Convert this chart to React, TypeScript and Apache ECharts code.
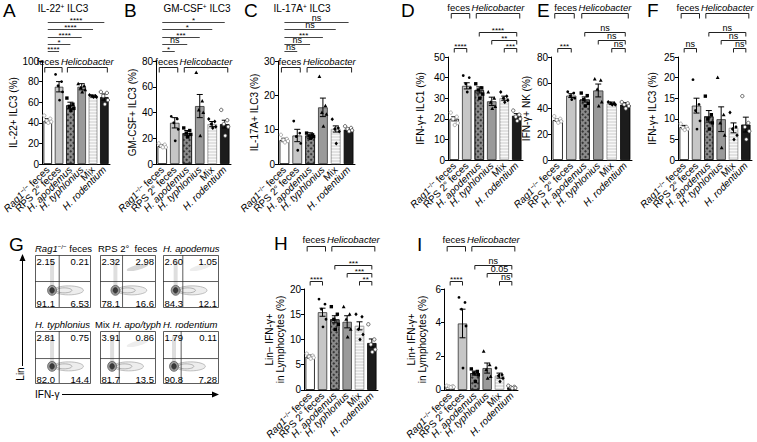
import React, { useEffect, useRef } from "react";
import * as echarts from "echarts";

const FONT = "'Liberation Sans', Arial, Helvetica, sans-serif";

const categories = ["Rag1−/− feces", "RPS 2° feces", "H. apodemus", "H. typhlonius", "Mix", "H. rodentium"];

// A: IL-22+ ILC3 (%)
const aMeans = [42, 75, 57, 75, 66, 65];
const aSems = [2, 5, 3, 3, 1, 3];
const aPoints = [[47, 44, 42, 41, 40], [87, 80, 76, 70, 62], [64, 58, 56, 54, 52], [78, 76, 74, 72, 70], [67, 66, 66, 65, 65], [70, 69, 66, 62, 58]];
const aSig = ["****", "*", "****", "****", "****"];

// B: GM-CSF+ ILC3 (%)
const bMeans = [14, 32, 24, 45, 31, 31];
const bSems = [1, 4, 2, 9, 2, 3];
const bPoints = [[16, 15, 14, 13, 13], [37, 35, 32, 27, 18], [28, 26, 24, 23, 21], [71, 49, 42, 40, 22], [35, 33, 31, 29, 28], [42, 34, 31, 29, 22]];
const bSig = ["*", "ns", "***", "*", "*"];

// C: IL-17A+ ILC3 (%)
const cMeans = [7, 8.3, 8.3, 16.5, 10.2, 10];
const cSems = [0.5, 1.8, 0.8, 2.7, 0.9, 0.4];
const cPoints = [[8.5, 7.3, 7, 6.7, 6.3], [12.5, 9, 8, 6, 4], [9, 8.5, 8.2, 8, 7.5], [25.5, 17, 15, 14.5, 11], [13, 10.5, 10.2, 9.5, 6], [11, 10.5, 10.2, 9.8, 9.5]];
const cSig = ["ns", "ns", "***", "ns", "ns"];

// D: IFN-γ+ ILC1 (%)
const dMeans = [20, 36, 34, 28.5, 30, 21.5];
const dSems = [1, 1.5, 1.5, 2, 1, 1];
const dPoints = [[23, 21, 20, 18, 17], [41, 40, 37, 35, 33], [37, 35, 34, 32, 30], [33, 30, 28, 26, 25], [33, 31, 30, 29, 28], [24, 22, 21, 20, 19]];
const dSigLeft = "****";
const dSigRight = ["****", "**", "***"];

// E: IFN-γ+ NK (%)
const eMeans = [31, 50, 47, 54, 44, 43];
const eSems = [1, 1.5, 2, 5, 1, 1.5];
const ePoints = [[34, 32, 31, 30, 29], [53, 52, 50, 48, 47], [52, 50, 47, 44, 42], [63, 62, 55, 45, 42], [45, 44, 44, 43, 43], [45, 44, 43, 42, 40]];
const eSigLeft = "***";
const eSigRight = ["ns", "ns", "ns"];

// F: IFN-γ+ ILC3 (%)
const fMeans = [8, 13.2, 10.6, 9.9, 7.8, 8.6];
const fSems = [0.4, 1.8, 1.4, 3, 1.2, 1.8];
const fPoints = [[8.8, 8, 7.8, 7.5, 7.3], [19.5, 13.5, 12, 9.5, 7.5], [15.5, 11, 10, 9, 7.5], [20, 11, 9, 6, 3], [11.5, 8, 7.5, 6, 5], [15.5, 9, 8, 7, 5]];
const fSigLeft = "ns";
const fSigRight = ["ns", "ns", "ns"];

// H: Lin− IFN-γ+ in Lymphocytes (%)
const hMeans = [6.6, 15.4, 14, 13.5, 12.7, 9.3];
const hSems = [0.3, 0.8, 0.7, 1.2, 0.8, 0.8];
const hPoints = [[7.2, 6.8, 6.6, 6.4, 6.2], [18, 17, 16, 14, 12.5], [16.5, 15, 14, 13, 12], [16.5, 15, 14, 12, 10.5], [15, 14.5, 12, 11, 10], [13, 10, 9, 8, 7.5]];
const hSigLeft = "****";
const hSigRight = ["***", "***", "**"];

// I: Lin+ IFN-γ+ in Lymphocytes (%)
const iMeans = [0.2, 3.95, 1.0, 1.3, 0.85, 0.15];
const iSems = [0.03, 0.85, 0.12, 0.3, 0.15, 0.03];
const iPoints = [[0.25, 0.22, 0.2, 0.18, 0.16], [5.5, 5.2, 4.8, 3.8, 1.3], [1.25, 1.1, 1.0, 0.9, 0.5], [2.3, 1.5, 1.2, 0.8, 0.7], [1.3, 0.9, 0.85, 0.7, 0.5], [0.25, 0.18, 0.15, 0.12, 0.1]];
const iSigLeft = "****";
const iSigRight = ["ns", "0.05", "ns"];

// G: flow plots
const gTitles = ["Rag1−/− feces", "RPS 2°  feces", "H. apodemus", "H. typhlonius", "Mix H. apo/typh", "H. rodentium"];
const gQuadrants = [
  ["2.15", "0.21", "91.1", "6.53"],
  ["2.32", "2.98", "78.1", "16.6"],
  ["2.60", "1.05", "84.3", "12.1"],
  ["2.81", "0.75", "82.0", "14.4"],
  ["3.91", "0.86", "81.7", "13.5"],
  ["1.79", "0.11", "90.8", "7.28"],
];

const panels = [
  { letter: "A", title: "IL-22+ ILC3", grid: { left: 34, top: 61, width: 76, height: 103 }, max: 100, interval: 20, name: "IL-22+ ILC3 (%)", gap: 19, means: aMeans, sems: aSems, points: aPoints },
  { letter: "B", title: "GM-CSF+ ILC3", grid: { left: 156, top: 61, width: 75, height: 103 }, max: 80, interval: 20, name: "GM-CSF+ ILC3 (%)", gap: 16, means: bMeans, sems: bSems, points: bPoints },
  { letter: "C", title: "IL-17A+ ILC3", grid: { left: 278, top: 61, width: 77, height: 103 }, max: 30, interval: 10, name: "IL-17A+ ILC3 (%)", gap: 16, means: cMeans, sems: cSems, points: cPoints },
  { letter: "D", grid: { left: 448, top: 57, width: 75, height: 103 }, max: 50, interval: 10, name: "IFN-γ+ ILC1 (%)", gap: 22, means: dMeans, sems: dSems, points: dPoints },
  { letter: "E", grid: { left: 551, top: 57, width: 81, height: 103 }, max: 80, interval: 20, name: "IFN-γ+ NK (%)", gap: 19, means: eMeans, sems: eSems, points: ePoints },
  { letter: "F", grid: { left: 678, top: 57, width: 74, height: 103 }, max: 25, interval: 5, name: "IFN-γ+ ILC3 (%)", gap: 20, means: fMeans, sems: fSems, points: fPoints },
  { letter: "H", grid: { left: 304, top: 289, width: 74, height: 101 }, max: 20, interval: 5, name: "Lin− IFN-γ+\nin Lymphocytes (%)", gap: 16, means: hMeans, sems: hSems, points: hPoints },
  { letter: "I", grid: { left: 444, top: 289, width: 74, height: 101 }, max: 6, interval: 2, name: "Lin+ IFN-γ+\nin Lymphocytes (%)", gap: 16, means: iMeans, sems: iSems, points: iPoints },
];

const abcSig = [aSig, bSig, cSig];
const rightSig = [
  { left: dSigLeft, right: dSigRight },
  { left: eSigLeft, right: eSigRight },
  { left: fSigLeft, right: fSigRight },
  { left: hSigLeft, right: hSigRight },
  { left: iSigLeft, right: iSigRight },
];

const barStyles: any[] = [
  { color: "#ffffff", borderColor: "#000", borderWidth: 0.8 },
  { color: "#c6c6c6", borderColor: "#333", borderWidth: 0.8 },
  { color: "#8a8a8a", borderColor: "#222", borderWidth: 0.8, decal: { symbol: "rect", symbolSize: 1, color: "rgba(20,20,20,0.7)", dashArrayX: [2, 2], dashArrayY: [2, 2], rotation: Math.PI / 4 } },
  { color: "#9a9a9a", borderColor: "#333", borderWidth: 0.8 },
  { color: "#e2e2e2", borderColor: "#aaa", borderWidth: 0.8, decal: { symbol: "rect", symbolSize: 1, color: "rgba(255,255,255,0.75)", dashArrayX: [1, 0], dashArrayY: [1, 2], rotation: 0 } },
  { color: "#1c1c1c", borderColor: "#000", borderWidth: 0.8 },
];

const jitter = [-3.5, 2.5, -1, 3.5, 0.5];

const richLabel = (c: string) => {
  if (c.startsWith("Rag1")) return "{i|Rag1}{s|−/−}{n|" + c.slice(7) + "}";
  if (c.startsWith("Mix H.")) return "{n|Mix }{i|" + c.slice(4) + "}";
  if (c.startsWith("H. ")) return "{i|" + c + "}";
  return "{n|" + c + "}";
};

const richStyles = (size: number) => ({
  i: { fontStyle: "italic", fontSize: size, fontFamily: FONT, color: "#000" },
  n: { fontSize: size, fontFamily: FONT, color: "#000" },
  s: { fontSize: size * 0.65, fontFamily: FONT, color: "#000", verticalAlign: "top", padding: [0, 0, 4, 0] },
});

function marker(cat: number, x: number, y: number): any {
  const black = { fill: "#000" };
  switch (cat) {
    case 0:
      return { type: "circle", shape: { cx: x, cy: y, r: 1.7 }, style: { fill: "#fff", stroke: "#999", lineWidth: 0.8 } };
    case 1:
      return { type: "circle", shape: { cx: x, cy: y, r: 1.4 }, style: black };
    case 2:
      return { type: "rect", shape: { x: x - 1.7, y: y - 1.7, width: 3.4, height: 3.4 }, style: black };
    case 3:
      return { type: "polygon", shape: { points: [[x, y - 2], [x + 1.9, y + 1.5], [x - 1.9, y + 1.5]] }, style: black };
    case 4:
      return { type: "polygon", shape: { points: [[x, y - 2], [x + 1.7, y], [x, y + 2], [x - 1.7, y]] }, style: black };
    default:
      return { type: "circle", shape: { cx: x, cy: y, r: 1.7 }, style: { fill: "#fff", stroke: "#444", lineWidth: 0.8 } };
  }
}

function buildOption(): any {
  const grid: any[] = [];
  const xAxis: any[] = [];
  const yAxis: any[] = [];
  const series: any[] = [];
  panels.forEach((p, gi) => {
    grid.push({ ...p.grid, containLabel: false });
    xAxis.push({
      type: "category",
      gridIndex: gi,
      data: categories,
      axisLine: { lineStyle: { color: "#000", width: 1 } },
      axisTick: { alignWithLabel: true, length: 3, lineStyle: { color: "#000" } },
      axisLabel: {
        interval: 0,
        rotate: 45,
        margin: 4,
        fontSize: 10,
        fontFamily: FONT,
        color: "#000",
        formatter: (v: string) => richLabel(v),
        rich: richStyles(10),
      },
    });
    yAxis.push({
      type: "value",
      gridIndex: gi,
      min: 0,
      max: p.max,
      interval: p.interval,
      axisLine: { show: true, lineStyle: { color: "#000", width: 1 } },
      axisTick: { show: true, length: 3, lineStyle: { color: "#000" } },
      axisLabel: { fontSize: 10, fontFamily: FONT, color: "#000", margin: 3 },
      splitLine: { show: false },
      name: p.name,
      nameLocation: "middle",
      nameGap: p.gap,
      nameTextStyle: { fontSize: 10, fontFamily: FONT, color: "#000", lineHeight: 11 },
    });
    series.push({
      type: "bar",
      xAxisIndex: gi,
      yAxisIndex: gi,
      barWidth: "76%",
      data: p.means.map((v, i) => ({ value: v, itemStyle: barStyles[i] })),
      z: 1,
    });
    series.push({
      type: "custom",
      xAxisIndex: gi,
      yAxisIndex: gi,
      z: 3,
      data: p.means.map((m, i) => [i, m, p.sems[i]]),
      renderItem: (params: any, api: any) => {
        const c = api.value(0);
        const m = api.value(1);
        const s = api.value(2);
        const top = api.coord([c, m + s]);
        const bot = api.coord([c, m - s]);
        const x = top[0];
        const st = { stroke: "#000", lineWidth: 1 };
        return {
          type: "group",
          children: [
            { type: "line", shape: { x1: x, y1: top[1], x2: x, y2: bot[1] }, style: st },
            { type: "line", shape: { x1: x - 3, y1: top[1], x2: x + 3, y2: top[1] }, style: st },
            { type: "line", shape: { x1: x - 3, y1: bot[1], x2: x + 3, y2: bot[1] }, style: st },
          ],
        };
      },
    });
    const pts: number[][] = [];
    p.points.forEach((arr, ci) => arr.forEach((v, j) => pts.push([ci, v, j])));
    series.push({
      type: "custom",
      xAxisIndex: gi,
      yAxisIndex: gi,
      z: 4,
      data: pts,
      renderItem: (params: any, api: any) => {
        const c = api.value(0);
        const v = api.value(1);
        const j = api.value(2);
        const pt = api.coord([c, v]);
        return marker(c, pt[0] + jitter[j % jitter.length], pt[1]);
      },
    });
  });
  return { animation: false, backgroundColor: "#fff", grid, xAxis, yAxis, series };
}

const STROKE = "#222";

function txt(x: number, y: number, text: string, o: any = {}): any {
  const style: any = {
    text,
    fontFamily: FONT,
    fontSize: o.size || 9,
    fontStyle: o.italic ? "italic" : "normal",
    fill: "#000",
    align: o.align || "center",
    verticalAlign: o.va || "middle",
    rich: o.rich,
  };
  if (o.lineHeight) style.lineHeight = o.lineHeight;
  return { type: "text", x, y, rotation: o.rotation || 0, silent: true, z: 10, style };
}
function line(x1: number, y1: number, x2: number, y2: number, w = 1, c = STROKE): any {
  return { type: "line", silent: true, z: 10, shape: { x1, y1, x2, y2 }, style: { stroke: c, lineWidth: w } };
}
function bracket(x1: number, x2: number, y: number, drop: number): any {
  return {
    type: "polyline",
    silent: true,
    z: 10,
    shape: { points: [[x1, y + drop], [x1, y], [x2, y], [x2, y + drop]] },
    style: { stroke: STROKE, lineWidth: 1, fill: "none" },
  };
}
const isStars = (s: string) => /^\*+$/.test(s);
function sigLabel(x: number, y: number, s: string): any {
  // star glyphs sit high in the em box; a tight line box keeps neighbours apart
  if (isStars(s)) return txt(x, y - 2, s, { size: 8, va: "middle", lineHeight: 5 });
  return txt(x, y - 4.5, s, { size: 9, va: "middle", lineHeight: 7 });
}

function buildGraphic(chart: any): any[] {
  const g: any[] = [];
  const cx = (gi: number, k: number) => (chart.convertToPixel({ gridIndex: gi }, [k, 0]) as number[])[0];

  const letters: [number, number, string][] = [
    [3, 1, "A"], [124, 1, "B"], [244, 1, "C"], [401, 1, "D"], [537, 1, "E"], [647, 1, "F"],
    [9, 235, "G"], [274, 234, "H"], [417, 235, "I"],
  ];
  letters.forEach(([x, y, l]) => g.push(txt(x, y, l, { size: 19, align: "left", va: "top" })));

  const titleX = [63, 197, 302];
  const supRich = { n: { fontSize: 10, fontFamily: FONT, color: "#000" }, s: { fontSize: 6.5, fontFamily: FONT, color: "#000", verticalAlign: "top", padding: [0, 0, 4, 0] } };
  [0, 1, 2].forEach((gi) => {
    const t = panels[gi].title as string;
    const parts = t.split("+");
    g.push(txt(titleX[gi], 8, "{n|" + parts[0] + "}{s|+}{n|" + parts[1] + "}", { rich: supRich }));
  });

  const HELI_W = 53; // approx width of "Helicobacter" at 9.5px italic
  const header = (gi: number, y: number, by: number) => {
    const x0 = cx(gi, 0), x1 = cx(gi, 1), x2 = cx(gi, 2), x5 = cx(gi, 5);
    const hc = (x2 + x5) / 2;
    g.push(txt(hc, y, "Helicobacter", { size: 9.5, italic: true }));
    g.push(txt(hc - HELI_W / 2 - 1.5, y, "feces", { size: 9.5, align: "right" }));
    g.push(bracket(x0 - 3, x1 + 3, by, 5));
    g.push(bracket(x2 - 3, x5 + 3, by, 5));
  };

  // A, B, C significance lines & headers
  const abcLineY = [51.5, 44.5, 37.5, 29.5, 22.5];
  [0, 1, 2].forEach((gi) => {
    const x0 = cx(gi, 0);
    abcSig[gi].forEach((s, idx) => {
      const k = idx + 1;
      const xk = cx(gi, k);
      const y = abcLineY[idx];
      g.push(line(x0, y, xk, y, 1, "#444"));
      g.push(sigLabel((x0 + xk) / 2, y, s));
    });
    header(gi, 61, 67.5);
  });

  // D, E, F, H, I headers and brackets
  const rightPanels = [3, 4, 5, 6, 7];
  rightPanels.forEach((gi, ri) => {
    const low = gi >= 6;
    const leftY = low ? 281.5 : 48.5;
    const rightY = low ? [265.5, 273.5, 281.5] : [32.5, 40.5, 48.5];
    header(gi, low ? 239 : 7, low ? 246.5 : 13.5);
    const x0 = cx(gi, 0), x1 = cx(gi, 1), x5 = cx(gi, 5);
    const sig = rightSig[ri];
    g.push(bracket(x0, x1, leftY, 4));
    g.push(sigLabel((x0 + x1) / 2, leftY, sig.left));
    sig.right.forEach((s, idx) => {
      const xk = cx(gi, idx + 2);
      g.push(bracket(xk, x5, rightY[idx], 4));
      g.push(sigLabel((xk + x5) / 2, rightY[idx], s));
    });
  });

  // G flow plots
  const boxX = [35, 100, 163];
  const boxY = [255, 331];
  const gw = 55, gh = 52;
  const gateX = [0.44, 0.41, 0.36, 0.44, 0.35, 0.33];
  const gateY = [0.51, 0.51, 0.51, 0.53, 0.53, 0.53];
  const titleXs = [35, 98, 163, 35, 95, 163];
  gTitles.forEach((t, i) => {
    const x = boxX[i % 3];
    const y = boxY[Math.floor(i / 3)];
    g.push(txt(titleXs[i], y - 7, richLabel(t), { align: "left", rich: richStyles(9.5) }));
    const gx = x + gateX[i] * gw;
    const gy = y + gateY[i] * gh;
    const bx = gx - 0.13 * gw;
    const by = y + 0.68 * gh;
    // decorative density contours
    g.push({ type: "rect", silent: true, z: 5, shape: { x: bx - 2, y: y + 0.1 * gh, width: 4, height: 0.48 * gh }, style: { fill: "rgba(0,0,0,0.13)" } });
    g.push({ type: "ellipse", silent: true, z: 5, shape: { cx: bx + 0.3 * gw, cy: by, rx: 0.27 * gw, ry: 4.5 }, style: { fill: "rgba(0,0,0,0.07)", stroke: "#999", lineWidth: 0.6 } });
    g.push({ type: "ellipse", silent: true, z: 5, shape: { cx: bx + 0.22 * gw, cy: by, rx: 0.14 * gw, ry: 2.5 }, style: { fill: "none", stroke: "#888", lineWidth: 0.6 } });
    g.push({ type: "ellipse", silent: true, z: 6, shape: { cx: bx, cy: by, rx: 4.5, ry: 5 }, style: { fill: "#9a9a9a", stroke: "#444", lineWidth: 0.6 } });
    g.push({ type: "ellipse", silent: true, z: 6, shape: { cx: bx, cy: by, rx: 2.3, ry: 2.8 }, style: { fill: "#3a3a3a", stroke: "#222", lineWidth: 0.5 } });
    if (i === 1 || i === 2 || i === 4) {
      g.push({ type: "ellipse", silent: true, z: 5, x: x + 0.68 * gw, y: y + 0.24 * gh, rotation: 0.25, shape: { cx: 0, cy: 0, rx: 0.2 * gw, ry: 2.5 }, style: { fill: i === 1 ? "rgba(0,0,0,0.16)" : "rgba(0,0,0,0.07)" } });
    }
    g.push({ type: "rect", silent: true, z: 7, shape: { x: x + 0.5, y: y + 0.5, width: gw, height: gh }, style: { fill: "none", stroke: "#333", lineWidth: 0.8 } });
    g.push(line(gx, y, gx, y + gh, 0.8, "#333"));
    g.push(line(x, gy, x + gw, gy, 0.8, "#333"));
    const q = gQuadrants[i];
    g.push(txt(x + 1.5, y + 1.5, q[0], { size: 9.5, align: "left", va: "top" }));
    g.push(txt(x + gw - 1, y + 1.5, q[1], { size: 9.5, align: "right", va: "top" }));
    g.push(txt(x + 1.5, y + gh + 1, q[2], { size: 9.5, align: "left", va: "bottom" }));
    g.push(txt(x + gw - 1, y + gh + 1, q[3], { size: 9.5, align: "right", va: "bottom" }));
  });
  // axes arrows
  g.push(line(22.5, 366, 22.5, 259, 1, "#000"));
  g.push({ type: "polygon", silent: true, z: 10, shape: { points: [[22.5, 254], [19.5, 261], [25.5, 261]] }, style: { fill: "#000" } });
  g.push(txt(20.5, 374, "Lin", { size: 10, rotation: Math.PI / 2 }));
  g.push(txt(35, 394, "IFN-γ", { size: 10, align: "left" }));
  g.push(line(62, 394.5, 214, 394.5, 1, "#000"));
  g.push({ type: "polygon", silent: true, z: 10, shape: { points: [[219, 394.5], [212, 391.5], [212, 397.5]] }, style: { fill: "#000" } });
  return g;
}

export default function App() {
  const ref = useRef<HTMLDivElement>(null);
  useEffect(() => {
    const chart = echarts.init(ref.current!, null, { renderer: "svg" });
    chart.setOption(buildOption());
    chart.setOption({ graphic: buildGraphic(chart) });
    return () => chart.dispose();
  }, []);
  return <div ref={ref} style={{ position: "fixed", left: 0, top: 0, width: 757, height: 442, background: "#fff" }} />;
}
